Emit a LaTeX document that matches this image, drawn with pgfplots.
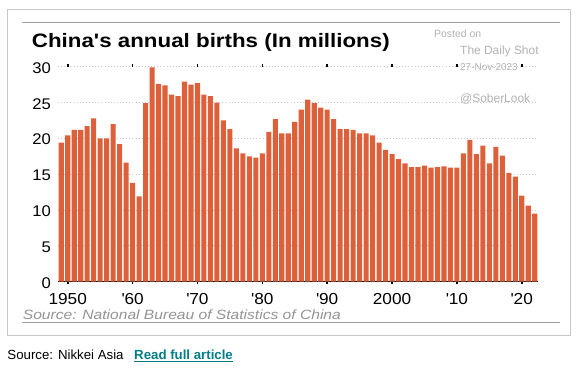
\documentclass[border=0pt]{standalone}
\usepackage{fontspec}
\setmainfont{Liberation Sans}
\newfontfamily\chartfont[FakeStretch=1.08]{Liberation Sans}
\newfontfamily\titlefont[FakeStretch=1.15]{Liberation Sans}
\newfontfamily\srcfont[FakeStretch=1.16]{Liberation Sans}
\usepackage{pgfplots}
\pgfplotsset{compat=1.18}
\definecolor{barc}{RGB}{222,96,58}
\definecolor{gridc}{RGB}{200,200,200}
\definecolor{wm}{RGB}{178,178,178}
\definecolor{linkc}{RGB}{0,125,135}
\definecolor{framec}{RGB}{200,200,200}
\begin{document}
\begin{tikzpicture}
\path[use as bounding box] (0bp,0bp) rectangle (579bp,369bp);
\draw[framec, line width=1.3bp] (7.3bp,33.7bp) rectangle (570.7bp,359.7bp);
\draw[gray!75, line width=0.9bp] (21.7bp,346.5bp) -- (560bp,346.5bp);
\draw[gray!75, line width=0.9bp] (21.7bp,46.3bp) -- (560bp,46.3bp);
\begin{axis}[
  at={(58bp,87.3bp)}, anchor=south west,
  scale only axis, width=480bp, height=215bp,
  xmin=1948.5, xmax=2022.5, ymin=0, ymax=30,
  clip=false,
  axis line style={draw=none},
  ybar, bar width=5.1bp,
  ytick={5,10,...,30},
  extra y ticks={0},
  extra y tick style={grid style={solid, black, line width=0.9bp}},
  ymajorgrids,
  grid style={gridc, line width=0.8bp, dash pattern=on 0.9bp off 2.2bp},
  ytick style={draw=none},
  xtick={1950,1960,...,2020},
  xticklabels={1950,\textquotesingle60,\textquotesingle70,\textquotesingle80,\textquotesingle90,2000,\textquotesingle10,\textquotesingle20},
  xtick style={black, line width=1.6bp},
  tick align=outside, major tick length=2.2bp,
  /pgf/number format/assume math mode=true,
  yticklabel style={font=\chartfont\fontsize{15.5}{15.5}\selectfont, anchor=east, inner sep=0pt, xshift=-4.7bp, yshift=-1.2bp},
  xticklabel style={font=\chartfont\fontsize{16}{16}\selectfont, anchor=base, inner sep=0pt, yshift=-21bp},
]
\addplot[fill=barc, draw=none] coordinates {
(1949,19.4) (1950,20.4) (1951,21.2) (1952,21.2) (1953,21.7) (1954,22.8)
(1955,20.0) (1956,20.0) (1957,22.0) (1958,19.2) (1959,16.6) (1960,13.8)
(1961,11.9) (1962,24.9) (1963,29.9) (1964,27.6) (1965,27.4) (1966,26.1)
(1967,25.9) (1968,27.9) (1969,27.5) (1970,27.7) (1971,26.1) (1972,25.9)
(1973,25.0) (1974,22.5) (1975,21.3) (1976,18.6) (1977,17.9) (1978,17.5)
(1979,17.3) (1980,17.9) (1981,20.9) (1982,22.7) (1983,20.7) (1984,20.7)
(1985,22.3) (1986,24.0) (1987,25.4) (1988,24.9) (1989,24.3) (1990,24.0)
(1991,22.7) (1992,21.3) (1993,21.3) (1994,21.2) (1995,20.7) (1996,20.7)
(1997,20.4) (1998,19.4) (1999,18.4) (2000,17.8) (2001,17.1) (2002,16.5)
(2003,16.0) (2004,16.0) (2005,16.2) (2006,15.9) (2007,16.0) (2008,16.1)
(2009,15.9) (2010,15.9) (2011,17.9) (2012,19.8) (2013,17.8) (2014,19.0)
(2015,16.5) (2016,18.8) (2017,17.6) (2018,15.2) (2019,14.65) (2020,12.0)
(2021,10.6) (2022,9.5)
};
\end{axis}
\node[anchor=base west, inner sep=0pt, font=\titlefont\bfseries\fontsize{19.5}{19.5}\selectfont] at (31.7bp,321.3bp) {China's annual births (In millions)};
\node[anchor=base west, inner sep=0pt, text=wm, font=\fontsize{10.5}{10.5}\selectfont] at (434bp,331.7bp) {Posted on};
\node[anchor=base west, inner sep=0pt, text=wm, font=\fontsize{12}{12}\selectfont] at (460bp,314bp) {The Daily Shot};
\node[anchor=base west, inner sep=0pt, text=wm, font=\fontsize{10}{10}\selectfont] at (460bp,298.7bp) {27-Nov-2023};
\node[anchor=base west, inner sep=0pt, text=wm, font=\fontsize{12}{12}\selectfont] at (460bp,266.3bp) {@SoberLook};
\node[anchor=base west, inner sep=0pt, text=gray!85, font=\srcfont\itshape\fontsize{13.5}{13.5}\selectfont] at (22.7bp,49.7bp) {Source: National Bureau of Statistics of China};
\node[anchor=base west, inner sep=0pt, font=\fontsize{13.3}{13.3}\selectfont] at (7.3bp,9.7bp) {Source: Nikkei Asia};
\node[anchor=base west, inner sep=0pt, text=linkc, font=\bfseries\fontsize{13.3}{13.3}\selectfont] (lk) at (134bp,9.7bp) {Read full article};
\draw[linkc, line width=0.9bp] ([yshift=-1.8bp]lk.base west) -- ([yshift=-1.8bp]lk.base east);
\end{tikzpicture}
\end{document}
